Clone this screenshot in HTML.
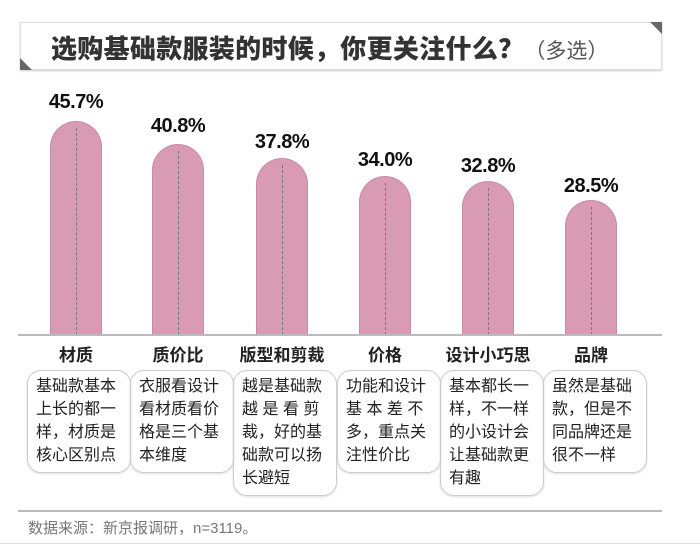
<!DOCTYPE html>
<html><head><meta charset="utf-8"><style>
body{margin:0;width:700px;height:547px;background:#fff;position:relative;overflow:hidden;font-family:"Liberation Sans","Noto Sans CJK SC",sans-serif;}
.t{position:absolute;left:20px;top:22px;width:640px;height:46px;border:1px solid #ddd;box-shadow:0 1px 2px #ccc;}
.t .h{position:absolute;left:30px;top:6px;font-size:26px;font-weight:900;color:#333;white-space:nowrap;letter-spacing:0.3px}
.t .h span{font-weight:normal;color:#555;font-size:21px;letter-spacing:0}
.tr{position:absolute;right:-1px;top:-1px;width:0;height:0;border-top:12px solid #666;border-left:12px solid transparent}
.bl{position:absolute;left:-1px;bottom:-1px;width:0;height:0;border-bottom:12px solid #666;border-right:12px solid transparent}
.bar{position:absolute;width:52px;background:#d99ab4;border:1px solid #c98aa4;border-bottom:none;border-radius:26px 26px 0 0;box-sizing:border-box}
.bar:after{content:"";position:absolute;left:25px;top:6px;bottom:0;border-left:1px dashed #777}
.v{position:absolute;width:110px;text-align:center;font-size:20px;font-weight:bold;color:#111;font-family:"Liberation Sans Narrow","Liberation Sans",sans-serif;letter-spacing:-0.5px}
.c{position:absolute;width:110px;text-align:center;font-size:17px;font-weight:bold;color:#222;top:341px}
.b{position:absolute;top:370px;width:104px;border:1px solid #ccc;border-radius:14px;box-sizing:border-box;padding:4px 3px 5px 8px;font-size:16px;line-height:23px;color:#222;box-shadow:0 1px 2px #ddd}
</style></head><body>
<div class="t"><div class="h">选购基础款服装的时候，你更关注什么？<span>（多选）</span></div><div class="tr"></div><div class="bl"></div></div>

<div class="bar" style="left:50px;top:121px;height:214px"></div>
<div class="bar" style="left:152px;top:144px;height:191px"></div>
<div class="bar" style="left:256px;top:158px;height:177px"></div>
<div class="bar" style="left:359px;top:176px;height:159px"></div>
<div class="bar" style="left:462px;top:181px;height:154px"></div>
<div class="bar" style="left:565px;top:200px;height:135px"></div>

<div class="v" style="left:21px;top:91px">45.7%</div>
<div class="v" style="left:123px;top:115px">40.8%</div>
<div class="v" style="left:227px;top:131px">37.8%</div>
<div class="v" style="left:330px;top:149px">34.0%</div>
<div class="v" style="left:433px;top:155px">32.8%</div>
<div class="v" style="left:536px;top:175px">28.5%</div>

<div style="position:absolute;left:18px;top:334px;width:644px;height:2px;background:#bbb"></div>

<div class="c" style="left:21px">材质</div>
<div class="c" style="left:123px">质价比</div>
<div class="c" style="left:227px">版型和剪裁</div>
<div class="c" style="left:330px">价格</div>
<div class="c" style="left:433px">设计小巧思</div>
<div class="c" style="left:536px">品牌</div>

<div class="b" style="left:27px">基础款基本上长的都一样，材质是核心区别点</div>
<div class="b" style="left:130px">衣服看设计看材质看价格是三个基本维度</div>
<div class="b" style="left:233px">越是基础款越 是 看 剪裁，好的基础款可以扬长避短</div>
<div class="b" style="left:337px">功能和设计基 本 差 不多，重点关注性价比</div>
<div class="b" style="left:440px">基本都长一样，不一样的小设计会让基础款更有趣</div>
<div class="b" style="left:543px">虽然是基础款，但是不同品牌还是很不一样</div>

<div style="position:absolute;left:18px;top:510px;width:644px;height:2px;background:#bbb"></div>
<div style="position:absolute;left:28px;top:517px;font-size:15px;color:#777">数据来源：新京报调研，n=3119。</div>
<div style="position:absolute;left:0;top:543px;width:700px;height:1px;background:#ddd"></div>
</body></html>
